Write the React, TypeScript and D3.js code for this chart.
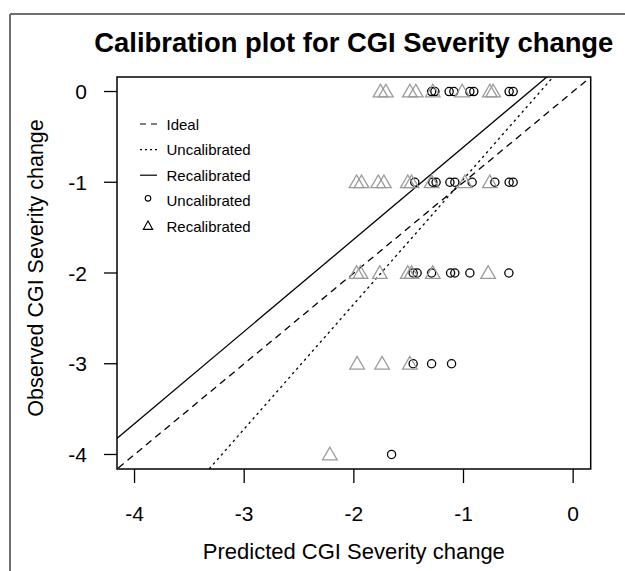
import React from "react";
import * as d3 from "d3";

const title = "Calibration plot for CGI Severity change";
const xLabel = "Predicted CGI Severity change";
const yLabel = "Observed CGI Severity change";
const xTicks = [-4, -3, -2, -1, 0];
const yTicks = [-4, -3, -2, -1, 0];

// Uncalibrated predictions (circles)
const uncalPred = [
  -1.291, -1.261, -1.131, -1.088, -0.942, -0.906, -0.584, -0.547,
  -1.444, -1.28, -1.25, -1.124, -1.079, -0.921, -0.714, -0.584, -0.547,
  -1.459, -1.423, -1.291, -1.118, -1.079, -0.942, -0.586,
  -1.459, -1.291, -1.109,
  -1.656,
];
const uncalObs = [
  0, 0, 0, 0, 0, 0, 0, 0,
  -1, -1, -1, -1, -1, -1, -1, -1, -1,
  -2, -2, -2, -2, -2, -2, -2,
  -3, -3, -3,
  -4,
];
// Recalibrated predictions (triangles)
const recalPred = [
  -1.757, -1.708, -1.489, -1.435, -1.28, -1.012, -0.76, -0.73,
  -1.975, -1.93, -1.778, -1.726, -1.508, -1.474, -1.291, -0.988, -0.76,
  -1.975, -1.939, -1.763, -1.508, -1.474, -1.28, -0.775,
  -1.97, -1.742, -1.489,
  -2.219,
];
const recalObs = [
  0, 0, 0, 0, 0, 0, 0, 0,
  -1, -1, -1, -1, -1, -1, -1, -1, -1,
  -2, -2, -2, -2, -2, -2, -2,
  -3, -3, -3,
  -4,
];

// Calibration lines: [intercept, slope]
const lineNames = ["Ideal", "Uncalibrated", "Recalibrated"];
const lineIntercepts = [0, 0.412, 0.404];
const lineSlopes = [1, 1.377, 1.016];
const lineDash = ["7,5", "2.5,3.5", ""];
const legendLabels = ["Ideal", "Uncalibrated", "Recalibrated", "Uncalibrated", "Recalibrated"];

const domain = [-4.16, 0.16];

export default function App() {
  const W = 625, H = 571;
  const L = 117, R = 590.7, T = 77, B = 469;
  const x = d3.scaleLinear().domain(domain).range([L, R]);
  const y = d3.scaleLinear().domain(domain).range([B, T]);
  const font = "'Liberation Sans', Arial, sans-serif";

  const tri = (cx: number, cy: number, hw: number, up: number, down: number) =>
    `M${cx},${cy - up}L${cx - hw},${cy + down}L${cx + hw},${cy + down}Z`;

  const lineGen = d3.line<number[]>().x((d) => x(d[0])).y((d) => y(d[1]));

  const legendY0 = 124;
  const legendStep = 25.6;

  return (
    <svg width={W} height={H} style={{ position: "absolute", left: 0, top: 0, background: "#fff" }}>
      <rect x={0} y={0} width={W} height={H} fill="#fff" />
      <defs>
        <clipPath id="plotclip">
          <rect x={L} y={T} width={R - L} height={B - T} />
        </clipPath>
      </defs>
      {/* outer frame */}
      <line x1={10} y1={14} x2={W} y2={14} stroke="#707070" strokeWidth={2} />
      <line x1={10} y1={14} x2={10} y2={H} stroke="#707070" strokeWidth={2} />

      <text x={(L + R) / 2} y={52} textAnchor="middle" fontFamily={font} fontWeight="bold" fontSize={27.4} fill="#000">
        {title}
      </text>

      {/* lines */}
      <g clipPath="url(#plotclip)">
        {lineNames.map((n, i) => {
          const ext = [
            [domain[0] - 1, lineIntercepts[i] + lineSlopes[i] * (domain[0] - 1)],
            [domain[1] + 1, lineIntercepts[i] + lineSlopes[i] * (domain[1] + 1)],
          ];
          return (
            <path key={n} d={lineGen(ext) || ""} fill="none" stroke="#000" strokeWidth={1.3}
              strokeDasharray={lineDash[i] || undefined} />
          );
        })}
      </g>

      {/* points */}
      <g>
        {uncalPred.map((p, i) => (
          <circle key={"u" + i} cx={x(p)} cy={y(uncalObs[i])} r={4.1} fill="none" stroke="#000" strokeWidth={1.3} />
        ))}
        {recalPred.map((p, i) => (
          <path key={"r" + i} d={tri(x(p), y(recalObs[i]), 7.3, 7.3, 5.3)} fill="none" stroke="#9a9a9a" strokeWidth={1.3} />
        ))}
      </g>

      {/* box */}
      <rect x={L} y={T} width={R - L} height={B - T} fill="none" stroke="#000" strokeWidth={1.5} />

      {/* x axis */}
      {xTicks.map((t) => (
        <g key={"xt" + t}>
          <line x1={x(t)} x2={x(t)} y1={B} y2={B + 14} stroke="#000" strokeWidth={1.3} />
          <text x={x(t)} y={521} textAnchor="middle" fontFamily={font} fontSize={21} fill="#000">
            {t}
          </text>
        </g>
      ))}
      <text x={(L + R) / 2} y={559} textAnchor="middle" fontFamily={font} fontSize={22} fill="#000">
        {xLabel}
      </text>

      {/* y axis */}
      {yTicks.map((t) => (
        <g key={"yt" + t}>
          <line x1={L - 13} x2={L} y1={y(t)} y2={y(t)} stroke="#000" strokeWidth={1.3} />
          <text x={87} y={y(t) + 7.5} textAnchor="end" fontFamily={font} fontSize={21} fill="#000">
            {t}
          </text>
        </g>
      ))}
      <text transform={`translate(43,268) rotate(-90)`} textAnchor="middle" fontFamily={font} fontSize={21.5} fill="#000">
        {yLabel}
      </text>

      {/* legend */}
      {legendLabels.map((lab, i) => {
        const cy = legendY0 + i * legendStep;
        let sym: React.ReactNode = null;
        if (i < 3) {
          sym = <line x1={140} x2={157} y1={cy} y2={cy} stroke="#000" strokeWidth={1.2}
            strokeDasharray={i === 0 ? "6,5" : i === 1 ? "2,3" : undefined} />;
        } else if (i === 3) {
          sym = <circle cx={148} cy={cy - 2.5} r={2.8} fill="none" stroke="#000" strokeWidth={1.1} />;
        } else {
          sym = <path d={tri(148, cy - 0.5, 4.7, 5, 3.5)} fill="none" stroke="#000" strokeWidth={1.1} />;
        }
        return (
          <g key={"lg" + i}>
            {sym}
            <text x={166.5} y={cy + 5.5} fontFamily={font} fontSize={15} fill="#000">
              {lab}
            </text>
          </g>
        );
      })}
    </svg>
  );
}
